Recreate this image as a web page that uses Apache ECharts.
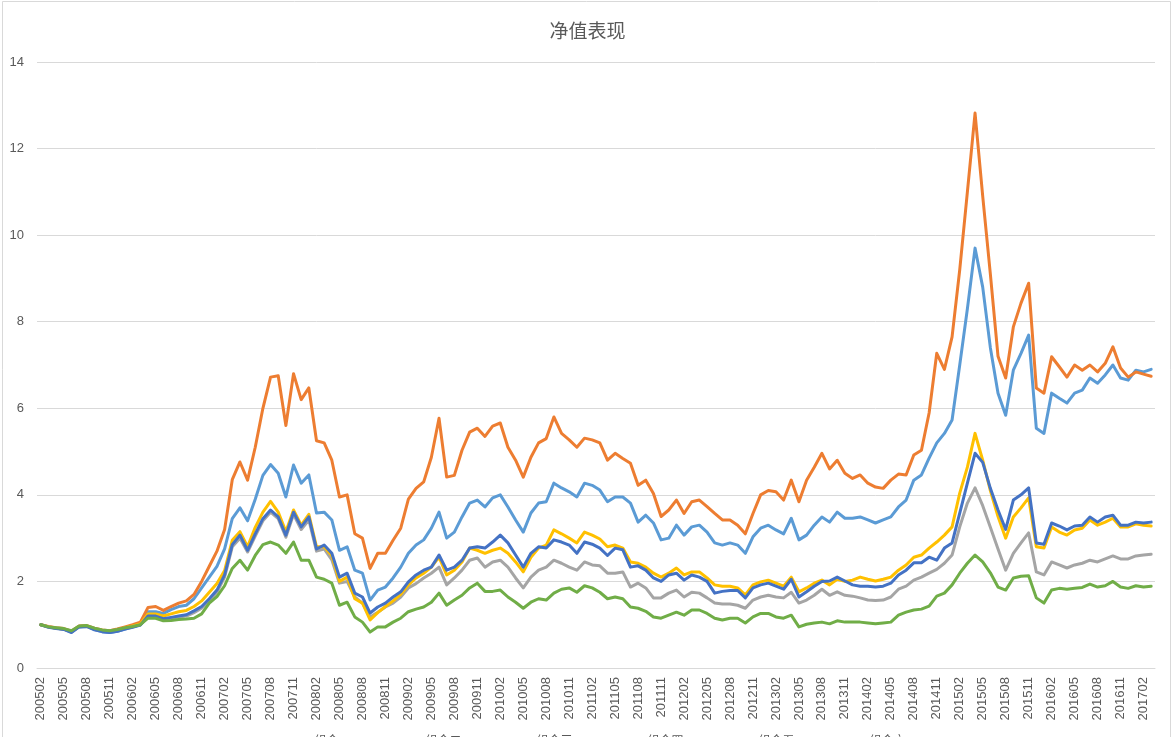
<!DOCTYPE html>
<html>
<head>
<meta charset="utf-8">
<script src="https://cdn.jsdelivr.net/npm/echarts@6/dist/echarts.min.js"></script>
<style>
html,body{margin:0;padding:0;background:#fff;}
#c{width:1175px;height:737px;}
</style>
</head>
<body>
<div id="c"></div>
<script>
var categories = [
"200502","200503","200504","200505","200506","200507","200508","200509","200510","200511","200512",
"200601","200602","200603","200604","200605","200606","200607","200608","200609","200610","200611","200612",
"200701","200702","200703","200704","200705","200706","200707","200708","200709","200710","200711","200712",
"200801","200802","200803","200804","200805","200806","200807","200808","200809","200810","200811","200812",
"200901","200902","200903","200904","200905","200906","200907","200908","200909","200910","200911","200912",
"201001","201002","201003","201004","201005","201006","201007","201008","201009","201010","201011","201012",
"201101","201102","201103","201104","201105","201106","201107","201108","201109","201110","201111","201112",
"201201","201202","201203","201204","201205","201206","201207","201208","201209","201210","201211","201212",
"201301","201302","201303","201304","201305","201306","201307","201308","201309","201310","201311","201312",
"201401","201402","201403","201404","201405","201406","201407","201408","201409","201410","201411","201412",
"201501","201502","201503","201504","201505","201506","201507","201508","201509","201510","201511","201512",
"201601","201602","201603","201604","201605","201606","201607","201608","201609","201610","201611","201612",
"201701","201702","201703"];

var seriesNames = ["组合一", "组合二", "组合三", "组合四", "组合五", "组合六"];

var lightBlue = [1.0,0.95,0.92,0.9,0.83,0.95,0.96,0.89,0.84,0.82,0.85,0.9,0.95,1.0,
1.3,1.3,1.26,1.35,1.42,1.45,1.6,1.85,2.1,2.35,2.75,
3.45,3.7,3.4,3.9,4.45,4.7,4.5,3.95,4.69,4.27,4.46,3.58,3.6,3.42,2.72,2.8,2.26,2.19,1.57,1.8,
1.87,2.08,2.33,2.65,2.84,
2.96,3.23,3.6,3.0,3.14,3.49,3.81,3.88,3.72,3.93,4.0,3.72,3.42,3.14,3.58,3.81,3.84,4.27,4.16,4.07,3.95,4.27,4.22,4.11,3.84,
3.95,3.95,3.81,3.37,3.53,3.35,2.96,3.0,3.3,3.07,3.26,3.3,3.14,2.89,2.84,2.89,2.84,2.65,3.03,3.23,3.3,3.19,3.1,3.46,2.96,
3.07,3.3,3.49,3.37,3.6,3.46,3.46,3.49,3.42,3.35,3.42,3.49,3.72,3.88,4.34,4.46,4.85,5.2,5.42,5.73,7.0,8.3,9.7,8.8,7.4,6.35,5.84,6.88,7.27,7.69,5.54,5.42,6.35,6.23,6.12,6.35,6.42,6.7,6.58,6.77,7.0,6.7,6.65,6.88,6.84,6.9];

var orange = [1.0,0.96,0.93,0.91,0.85,0.97,0.98,0.92,0.88,0.86,0.9,0.95,1.0,1.06,
1.4,1.42,1.33,1.42,1.5,1.55,1.7,2.0,2.35,2.7,3.2,
4.35,4.76,4.34,5.1,6.0,6.72,6.75,5.6,6.8,6.2,6.47,5.25,5.2,4.8,3.95,4.0,3.1,3.0,2.3,2.65,
2.65,2.95,3.23,3.9,4.15,
4.3,4.87,5.77,4.41,4.45,5.03,5.45,5.54,5.35,5.59,5.66,5.1,4.8,4.41,4.87,5.2,5.3,5.8,5.42,5.27,5.1,5.31,5.27,5.2,4.8,
4.96,4.84,4.73,4.22,4.34,4.03,3.5,3.65,3.88,3.57,3.84,3.88,3.73,3.57,3.42,3.42,3.3,3.1,3.57,4.0,4.1,4.07,3.88,4.34,3.84,
4.34,4.64,4.96,4.6,4.8,4.5,4.38,4.46,4.27,4.18,4.15,4.34,4.48,4.46,4.92,5.03,5.89,7.27,6.9,7.65,9.2,11.0,12.82,10.9,9.1,7.2,6.7,7.88,8.43,8.89,6.47,6.35,7.19,6.96,6.72,7.0,6.88,7.0,6.84,7.04,7.42,6.93,6.72,6.84,6.79,6.74];

var gray = [1.0,0.95,0.92,0.9,0.84,0.96,0.97,0.9,0.86,0.84,0.87,0.92,0.96,1.0,
1.18,1.18,1.12,1.15,1.18,1.2,1.28,1.38,1.55,1.75,2.1,
2.8,3.0,2.68,3.05,3.4,3.6,3.45,3.02,3.55,3.2,3.42,2.7,2.75,2.5,1.96,2.0,1.64,1.5,1.18,1.29,
1.41,1.5,1.64,1.85,1.95,
2.08,2.19,2.33,1.92,2.08,2.26,2.49,2.54,2.33,2.45,2.49,2.33,2.08,1.85,2.1,2.26,2.33,2.49,2.42,2.33,2.26,2.45,2.38,2.36,2.19,
2.19,2.22,1.87,1.96,1.85,1.62,1.62,1.73,1.8,1.64,1.75,1.73,1.62,1.5,1.48,1.48,1.45,1.38,1.57,1.64,1.68,1.64,1.62,1.75,1.5,
1.57,1.68,1.82,1.68,1.76,1.68,1.66,1.62,1.57,1.56,1.57,1.64,1.82,1.89,2.03,2.1,2.19,2.28,2.42,2.61,3.26,3.81,4.16,3.75,3.25,2.75,2.26,2.65,2.89,3.12,2.22,2.15,2.45,2.38,2.31,2.38,2.42,2.49,2.45,2.52,2.59,2.52,2.52,2.59,2.61,2.63];

var yellow = [1.0,0.95,0.92,0.9,0.84,0.96,0.97,0.9,0.87,0.85,0.88,0.93,0.97,1.02,
1.25,1.25,1.2,1.25,1.3,1.33,1.42,1.55,1.75,1.95,2.25,
2.95,3.15,2.8,3.25,3.6,3.85,3.6,3.15,3.65,3.3,3.55,2.8,2.8,2.6,2.0,2.1,1.6,1.5,1.11,1.28,
1.42,1.55,1.7,1.92,2.08,
2.19,2.33,2.56,2.15,2.26,2.45,2.77,2.72,2.65,2.72,2.77,2.65,2.45,2.22,2.56,2.77,2.84,3.19,3.1,3.0,2.89,3.14,3.07,2.98,2.8,
2.84,2.77,2.45,2.42,2.33,2.19,2.1,2.19,2.31,2.15,2.22,2.22,2.08,1.92,1.89,1.89,1.85,1.69,1.92,1.99,2.03,1.96,1.89,2.1,1.76,
1.85,1.96,2.03,1.92,2.05,2.0,2.03,2.1,2.05,2.01,2.05,2.1,2.26,2.38,2.56,2.61,2.77,2.91,3.07,3.26,4.04,4.64,5.42,4.8,4.1,3.5,3.0,3.49,3.7,3.93,2.8,2.77,3.26,3.14,3.07,3.19,3.23,3.42,3.3,3.37,3.46,3.26,3.26,3.33,3.3,3.28];

var darkBlue = [1.0,0.94,0.91,0.89,0.82,0.95,0.96,0.88,0.84,0.82,0.85,0.9,0.94,0.99,
1.2,1.2,1.14,1.17,1.2,1.23,1.32,1.42,1.6,1.8,2.15,
2.85,3.07,2.72,3.1,3.45,3.65,3.49,3.07,3.6,3.26,3.49,2.75,2.84,2.65,2.1,2.19,1.73,1.64,1.27,1.41,
1.5,1.64,1.76,1.99,2.15,
2.26,2.33,2.61,2.26,2.33,2.49,2.77,2.8,2.77,2.91,3.07,2.89,2.61,2.33,2.65,2.8,2.77,2.96,2.91,2.84,2.65,2.91,2.86,2.77,2.6,
2.77,2.73,2.33,2.36,2.26,2.08,2.0,2.15,2.19,2.03,2.15,2.1,2.0,1.73,1.77,1.79,1.79,1.62,1.85,1.92,1.96,1.89,1.82,2.05,1.64,
1.76,1.89,2.0,2.01,2.1,2.01,1.92,1.89,1.89,1.87,1.89,1.96,2.15,2.26,2.43,2.43,2.56,2.49,2.77,2.89,3.58,4.27,4.96,4.75,4.15,3.65,3.2,3.88,4.0,4.16,2.89,2.86,3.35,3.28,3.19,3.28,3.3,3.49,3.37,3.49,3.53,3.3,3.3,3.37,3.35,3.37];

var green = [1.0,0.95,0.93,0.91,0.86,0.97,0.98,0.92,0.88,0.86,0.89,0.93,0.96,1.0,
1.15,1.15,1.09,1.1,1.12,1.13,1.15,1.25,1.5,1.65,1.9,
2.3,2.49,2.26,2.6,2.85,2.91,2.84,2.65,2.91,2.49,2.49,2.1,2.05,1.96,1.45,1.52,1.18,1.06,0.83,0.95,
0.95,1.06,1.15,1.3,1.36,
1.41,1.52,1.73,1.45,1.57,1.68,1.85,1.96,1.77,1.77,1.8,1.64,1.52,1.38,1.52,1.6,1.57,1.73,1.82,1.85,1.75,1.9,1.85,1.75,1.6,
1.64,1.6,1.41,1.38,1.31,1.18,1.15,1.22,1.29,1.22,1.34,1.34,1.26,1.15,1.11,1.15,1.15,1.04,1.18,1.26,1.26,1.18,1.15,1.22,0.95,
1.01,1.04,1.06,1.02,1.09,1.06,1.06,1.06,1.04,1.02,1.04,1.06,1.22,1.29,1.34,1.36,1.43,1.66,1.73,1.92,2.19,2.42,2.61,2.45,2.2,1.87,1.8,2.08,2.12,2.13,1.62,1.5,1.8,1.84,1.82,1.84,1.86,1.94,1.87,1.9,2.0,1.87,1.84,1.9,1.87,1.89];

var seriesData = [lightBlue, orange, gray, yellow, darkBlue, green];
var colors = ["#5B9BD5", "#ED7D31", "#A5A5A5", "#FFC000", "#4472C4", "#70AD47"];
var yTicks = {min: 0, max: 14, interval: 2};

var chart = echarts.init(document.getElementById('c'), null, {renderer: 'canvas'});
var series = seriesData.map(function (d, k) {
  return {
    name: seriesNames[k],
    type: 'line',
    data: d,
    symbol: 'none',
    smooth: false,
    lineStyle: {width: 3, color: colors[k], join: 'round', cap: 'round'},
    itemStyle: {color: colors[k]},
    z: 2 + k
  };
});

chart.setOption({
  animation: false,
  backgroundColor: '#ffffff',
  textStyle: {fontFamily: 'Liberation Sans, Arial, sans-serif'},
  title: {
    text: '净值表现',
    left: 'center',
    top: 16,
    textStyle: {fontFamily: 'Noto Sans CJK SC', fontSize: 19, fontWeight: 'normal', color: '#595959'}
  },
  legend: {
    top: 729,
    left: 'center',
    itemWidth: 40,
    itemHeight: 3,
    itemGap: 30,
    icon: 'rect',
    textStyle: {color: '#595959', fontSize: 12, fontFamily: 'Noto Sans CJK SC'},
    data: seriesNames
  },
  grid: {left: 37, right: 20, top: 62, bottom: 69, containLabel: false},
  xAxis: {
    type: 'category',
    data: categories,
    boundaryGap: true,
    axisLine: {show: true, lineStyle: {color: '#D9D9D9', width: 1}},
    axisTick: {show: false},
    axisLabel: {interval: 2, rotate: 90, color: '#595959', fontSize: 13, margin: 9}
  },
  yAxis: {
    type: 'value',
    min: yTicks.min,
    max: yTicks.max,
    interval: yTicks.interval,
    axisLine: {show: false},
    axisTick: {show: false},
    splitLine: {lineStyle: {color: '#D9D9D9', width: 1}},
    axisLabel: {color: '#595959', fontSize: 13, margin: 13}
  },
  graphic: [{
    type: 'rect',
    shape: {x: 2.5, y: 1.5, width: 1168, height: 760},
    style: {fill: 'none', stroke: '#D9D9D9', lineWidth: 1},
    silent: true,
    z: -1
  }],
  series: series
});
</script>
</body>
</html>
